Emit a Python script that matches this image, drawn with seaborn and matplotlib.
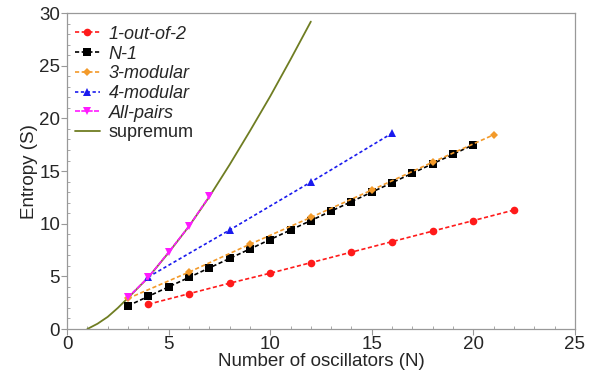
import matplotlib
matplotlib.use("Agg")
import matplotlib.pyplot as plt
import seaborn as sns
import pandas as pd

sns.set_style("white")
plt.rcParams['font.family'] = ['Liberation Sans', 'DejaVu Sans']

# ---- data ----
n_one_of_two = [4, 6, 8, 10, 12, 14, 16, 18, 20, 22]
s_one_of_two = [2.35, 3.35, 4.35, 5.3, 6.3, 7.3, 8.3, 9.3, 10.3, 11.3]

n_n1 = [3, 4, 5, 6, 7, 8, 9, 10, 11, 12, 13, 14, 15, 16, 17, 18, 19, 20]
s_n1 = [2.2, 3.1, 4.0, 4.9, 5.8, 6.7, 7.6, 8.5, 9.4, 10.3, 11.2, 12.1, 13.0,
        13.9, 14.8, 15.7, 16.6, 17.5]

n_mod3 = [3, 6, 9, 12, 15, 18, 21]
s_mod3 = [2.9, 5.4, 8.05, 10.6, 13.2, 15.85, 18.45]

n_mod4 = [4, 8, 12, 16]
s_mod4 = [4.94, 9.4, 13.96, 18.6]

n_allpairs = [3, 4, 5, 6, 7]
s_allpairs = [3.0, 4.9, 7.3, 9.75, 12.6]

n_sup = [1, 1.5, 2, 2.5, 3, 4, 5, 6, 7, 8, 9, 10, 11, 12]
s_sup = [0.0, 0.5, 1.15, 2.0, 2.95, 4.9, 7.25, 9.75, 12.55, 15.6, 18.8, 22.1, 25.6, 29.2]

series = [
    ("1-out-of-2", n_one_of_two, s_one_of_two, "#ff1a1a", "o", 5.5, (2.5, 1.5)),
    ("N-1", n_n1, s_n1, "#000000", "s", 6, (2.5, 1.5)),
    ("3-modular", n_mod3, s_mod3, "#f39a2a", "D", 4, (2.5, 1.5)),
    ("4-modular", n_mod4, s_mod4, "#1a1aee", "^", 6, (2, 1.5)),
    ("All-pairs", n_allpairs, s_allpairs, "#ff1aff", "v", 6, (3, 0.8)),
]

fig = plt.figure(figsize=(6.0, 3.76), dpi=100)
ax = fig.add_axes([0.1117, 0.125, 0.8466, 0.84])

for name, xs, ys, color, mk, ms, dash in series:
    df = pd.DataFrame({"N": xs, "S": ys})
    sns.lineplot(data=df, x="N", y="S", ax=ax, color=color, linewidth=1.2,
                 marker=mk, markersize=ms, markeredgewidth=0, dashes=False,
                 label=name, zorder=3)
    ln = ax.get_lines()[-1]
    ln.set_dashes(dash)

df_sup = pd.DataFrame({"N": n_sup, "S": s_sup})
sns.lineplot(data=df_sup, x="N", y="S", ax=ax, color="#6f7d22", linewidth=1.3,
             label="supremum", zorder=2)

ax.set_xlim(0, 25)
ax.set_ylim(0, 30)
ax.set_xticks([0, 5, 10, 15, 20, 25])
ax.set_yticks([0, 5, 10, 15, 20, 25, 30])
ax.set_xticks(range(0, 26), minor=True)
ax.set_yticks(range(0, 31), minor=True)
ax.tick_params(axis="both", which="major", labelsize=13.5, length=4, width=0.8,
               color="#999999", direction="out", pad=1)
ax.tick_params(axis="both", which="minor", length=2.5, width=0.6,
               color="#999999", direction="in")
ax.tick_params(axis="x", which="both", bottom=True)
ax.tick_params(axis="y", which="both", left=True)
for sp in ax.spines.values():
    sp.set_color("#999999")
    sp.set_linewidth(0.9)

ax.set_xlabel("Number of oscillators (N)", fontsize=13.5, labelpad=0)
ax.set_ylabel("Entropy (S)", fontsize=13.5, labelpad=1)

leg = ax.legend(loc="upper left", frameon=False, fontsize=13, handlelength=1.4,
                handletextpad=0.5, labelspacing=0.15, borderaxespad=0.3,
                bbox_to_anchor=(-0.01, 1.0))
for t in leg.get_texts()[:5]:
    t.set_fontstyle("italic")

fig.savefig("out.png", dpi=100)
